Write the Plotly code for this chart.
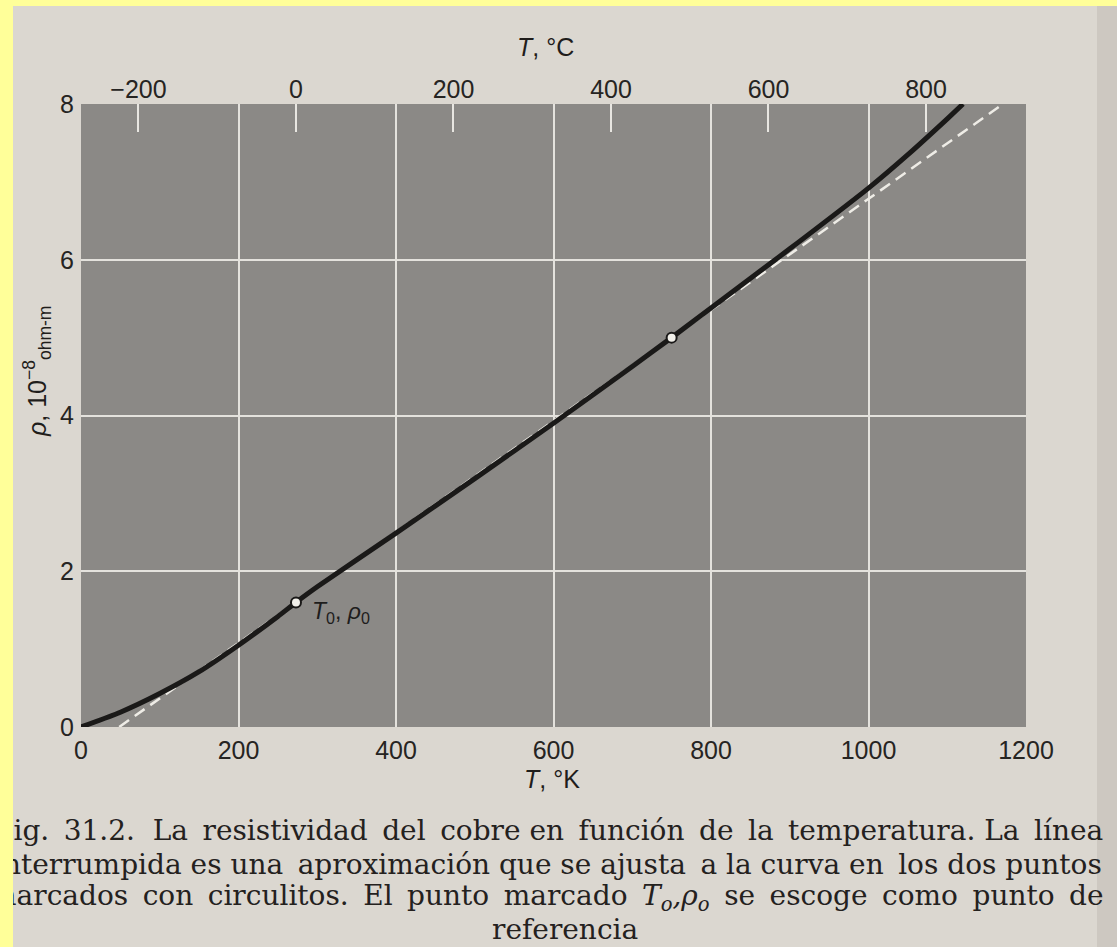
import plotly.graph_objects as go

# ---- data ----
T_K = [0, 50, 100, 150, 200, 250, 273, 300, 400, 500, 600, 700, 750, 800, 900, 1000, 1050, 1100, 1120]
rho = [0.0, 0.19, 0.43, 0.71, 1.05, 1.42, 1.60, 1.80, 2.49, 3.19, 3.90, 4.63, 5.00, 5.38, 6.14, 6.92, 7.35, 7.81, 8.0]

marked_T = [273, 750]
marked_rho = [1.60, 5.00]

x_ticks = [0, 200, 400, 600, 800, 1000, 1200]
y_ticks = [0, 2, 4, 6, 8]
top_ticks_C = [-200, 0, 200, 400, 600, 800]

caption_lines = [
    "Fig. 31.2.\u00a0 La resistividad del cobre en función de la temperatura. La línea",
    "interrumpida es una aproximación que se ajusta a la curva en los dos puntos",
    "marcados con circulitos. El punto marcado <i>T<sub>o</sub>,ρ<sub>o</sub></i> se escoge como punto de",
    "referencia",
]
# extra thin spaces used to justify the first three caption lines
caption_extra = [9, 3, 11]
caption_left = [-8, -8, -12]

# dashed approximation line: the straight line through the two marked points,
# extended from rho = 0 up to the top of the frame
slope = (marked_rho[1] - marked_rho[0]) / (marked_T[1] - marked_T[0])
dash_rho = [0.0, 8.0]
dash_T = [marked_T[0] + (r - marked_rho[0]) / slope for r in dash_rho]

# ---- geometry of the figure (pixels) ----
W, H = 1117, 947
L, R, TOP, B = 81, 91, 104, 220
PW, PH = W - L - R, H - TOP - B


def px(xp):
    return (xp - L) / PW


def py(yp):
    return (H - B - yp) / PH


def justify(line, extra):
    parts = line.split(" ")
    gaps = len(parts) - 1
    if extra <= 0 or gaps <= 0:
        return line
    step = gaps / extra
    marks = {min(gaps - 1, int(step * k + step / 2)) for k in range(extra)}
    out = parts[0]
    for g in range(gaps):
        out += (" \u2009" if g in marks else " ") + parts[g + 1]
    return out


INK = "#1f1d1b"
SANS = "Liberation Sans, Arial, sans-serif"
SERIF = "DejaVu Serif, serif"
GRID = "#e4e2dd"
TICKFONT = dict(family=SANS, size=25, color="#262422")

fig = go.Figure()

fig.add_trace(go.Scatter(x=dash_T, y=dash_rho, mode="lines",
                         line=dict(color="#eeece6", width=2.5, dash="12px,7px"),
                         hoverinfo="skip"))
fig.add_trace(go.Scatter(x=T_K, y=rho, mode="lines",
                         line=dict(color="#1a1918", width=5, shape="spline", smoothing=0.5),
                         hoverinfo="skip"))
fig.add_trace(go.Scatter(x=marked_T, y=marked_rho, mode="markers",
                         marker=dict(size=10, color="#f2f0ea", line=dict(color="#1a1918", width=2)),
                         hoverinfo="skip"))
# helper so the Celsius axis is drawn
fig.add_trace(go.Scatter(x=top_ticks_C, y=[None] * len(top_ticks_C), xaxis="x2", yaxis="y",
                         mode="markers", hoverinfo="skip", showlegend=False))

fig.update_layout(
    width=W, height=H,
    margin=dict(l=L, r=R, t=TOP, b=B),
    paper_bgcolor="#dbd7d0",
    plot_bgcolor="#8b8986",
    showlegend=False,
    xaxis=dict(range=[0, 1200], tickmode="array", tickvals=x_ticks,
               ticktext=[str(v) for v in x_ticks],
               showgrid=True, gridcolor=GRID, gridwidth=2, zeroline=False, showline=False,
               ticks="outside", ticklen=1, tickcolor="rgba(0,0,0,0)",
               tickfont=TICKFONT),
    yaxis=dict(range=[0, 8], tickmode="array", tickvals=y_ticks,
               ticktext=[str(v) for v in y_ticks],
               showgrid=True, gridcolor=GRID, gridwidth=2, zeroline=False, showline=False,
               ticks="outside", ticklen=1, tickcolor="rgba(0,0,0,0)",
               tickfont=TICKFONT),
    xaxis2=dict(overlaying="x", side="top", anchor="y", range=[-273, 927],
                tickmode="array", tickvals=top_ticks_C,
                ticktext=[("−" + str(-v)) if v < 0 else str(v) for v in top_ticks_C],
                ticks="inside", ticklen=28, tickwidth=2, tickcolor="#e8e6e1",
                showgrid=False, zeroline=False, showline=False,
                tickfont=TICKFONT),
)

ann = []
# axis titles
ann.append(dict(text="<i>ρ</i>, 10<sup>−8</sup><sub>ohm-m</sub>", textangle=-90,
                xref="paper", yref="paper", x=px(37), y=py(372), xanchor="center", yanchor="middle",
                showarrow=False, font=dict(family=SANS, size=25, color=INK)))
ann.append(dict(text="<i>T</i>, °K", xref="paper", yref="paper", x=px(552), y=py(779),
                xanchor="center", yanchor="middle",
                showarrow=False, font=dict(family=SANS, size=25, color=INK)))
ann.append(dict(text="<i>T</i>, °C", xref="paper", yref="paper", x=px(545), y=py(47),
                xanchor="center", yanchor="middle",
                showarrow=False, font=dict(family=SANS, size=25, color=INK)))
# point label
ann.append(dict(text="<i>T</i><sub>0</sub>, <i>ρ</i><sub>0</sub>", xref="x", yref="y",
                x=marked_T[0], y=marked_rho[0], xanchor="left", yanchor="middle",
                xshift=14, yshift=-10, showarrow=False,
                font=dict(family=SANS, size=23, color="#1e1d1c")))
# caption
cap_y = [830, 864, 897, 929]
for i, line in enumerate(caption_lines):
    if i < 3:
        ann.append(dict(text=justify(line, caption_extra[i]), xref="paper", yref="paper",
                        x=px(caption_left[i]), y=py(cap_y[i]),
                        xanchor="left", yanchor="middle", showarrow=False,
                        font=dict(family=SERIF, size=28, color="#24211e")))
    else:
        ann.append(dict(text=line, xref="paper", yref="paper", x=px(565), y=py(cap_y[i]),
                        xanchor="center", yanchor="middle", showarrow=False,
                        font=dict(family=SERIF, size=28, color="#24211e")))
# yellow border strips of the screenshot (on top)
ann.append(dict(text=" ", xref="paper", yref="paper", x=px(0), y=py(0), xanchor="left", yanchor="top",
                width=13, height=H, bgcolor="#ffff99", borderpad=0, borderwidth=0, showarrow=False))
ann.append(dict(text=" ", xref="paper", yref="paper", x=px(0), y=py(0), xanchor="left", yanchor="top",
                width=W, height=6, bgcolor="#ffff99", borderpad=0, borderwidth=0, showarrow=False))
fig.update_layout(annotations=ann)

# darker band at the right edge of the scanned page
fig.add_shape(type="rect", xref="paper", yref="paper", x0=px(1097), x1=px(W), y0=py(H), y1=py(0),
              fillcolor="rgba(110,100,90,0.12)", line=dict(width=0), layer="below")

fig.write_html("out.html", config={"displayModeBar": False},
               post_script="document.body.style.margin='0';")
